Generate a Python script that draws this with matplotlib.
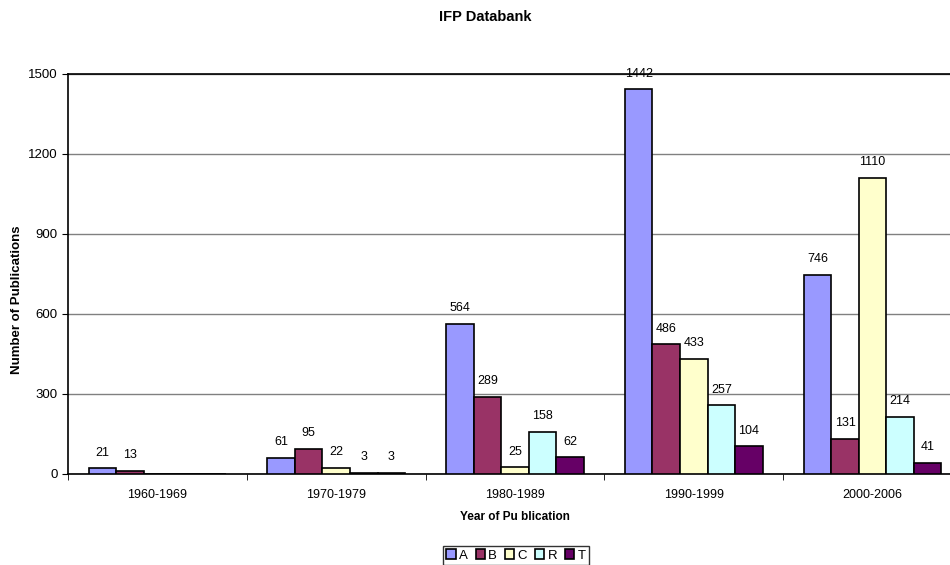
import matplotlib.pyplot as plt
import numpy as np

# Données
periodes = ['1960-1969', '1970-1979', '1980-1989', '1990-1999', '2000-2006']
series = ['A', 'B', 'C', 'R', 'T']
valeurs_A = [21, 61, 564, 1442, 746]
valeurs_B = [13, 95, 289, 486, 131]
valeurs_C = [0, 22, 25, 433, 1110]
valeurs_R = [0, 3, 158, 257, 214]
valeurs_T = [0, 3, 62, 104, 41]
couleurs = ['#9999FF', '#993366', '#FFFFCC', '#CCFFFF', '#660066']

plt.rcParams['font.family'] = ['Liberation Sans', 'DejaVu Sans']

fig = plt.figure(figsize=(9.5, 5.65), dpi=100)
W, H = 950, 565
ax = fig.add_axes([68 / W, 1 - 474 / H, (962 - 68) / W, 400 / H])

toutes = [valeurs_A, valeurs_B, valeurs_C, valeurs_R, valeurs_T]
x = np.arange(len(periodes))
largeur = 0.154
for i, (nom, vals, c) in enumerate(zip(series, toutes, couleurs)):
    pos = x - 2 * largeur + i * largeur
    ax.bar(pos, vals, largeur, color=c, edgecolor='black', linewidth=1.2,
           label=nom, zorder=3)
    for p, v in zip(pos, vals):
        if v > 0:
            ax.annotate(str(v), (p, v), xytext=(0, 7), textcoords='offset points',
                        ha='center', va='bottom', fontsize=9)

ax.set_xlim(-0.5, len(periodes) - 0.5)
ax.set_ylim(0, 1500)
ax.set_yticks([0, 300, 600, 900, 1200, 1500])
ax.yaxis.grid(True, color='#808080', linewidth=1, zorder=0)
ax.set_axisbelow(True)

ax.set_xticks(x)
ax.set_xticklabels(periodes, fontsize=9)
ax.set_xticks(np.arange(len(periodes) + 1) - 0.5, minor=True)
ax.tick_params(axis='x', which='major', length=0, pad=11)
ax.tick_params(axis='x', which='minor', length=4, direction='out')
ax.tick_params(axis='y', labelsize=9.5, length=4, direction='out')

ax.spines['right'].set_visible(False)
for s in ['left', 'bottom', 'top']:
    ax.spines[s].set_linewidth(1.2)

ax.set_xlabel('Year of Pu blication', fontsize=8.5, fontweight='bold', labelpad=7)
fig.text(17 / W, 1 - 300 / H, 'Number of Publications', rotation=90,
         ha='center', va='center', fontsize=9.5, fontweight='bold')
fig.text(485 / W, 1 - 17 / H, 'IFP Databank', ha='center', va='center',
         fontsize=10.5, fontweight='bold')

leg = fig.legend(loc='upper center', bbox_to_anchor=(516 / W, 1 - 546 / H), ncol=5,
                 fontsize=9.5, frameon=True, fancybox=False, edgecolor='black',
                 handlelength=0.7, handleheight=0.7, handletextpad=0.25,
                 columnspacing=0.6, borderpad=0.25, borderaxespad=0)
leg.get_frame().set_linewidth(1)

fig.savefig('out.png', dpi=100)
